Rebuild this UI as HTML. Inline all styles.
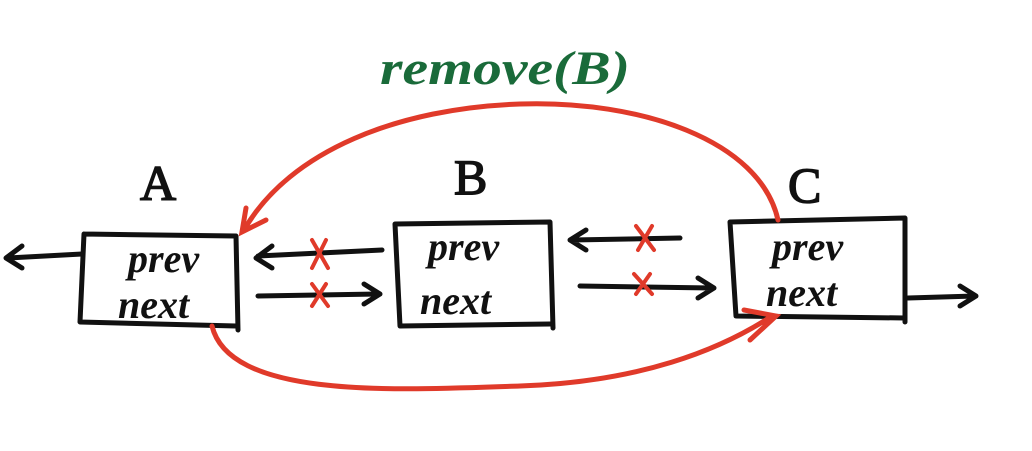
<!DOCTYPE html>
<html><head><meta charset="utf-8"><style>
html,body{margin:0;padding:0;background:#fff;}
svg{display:block;}
text{font-family:"Liberation Serif",serif;}
</style></head><body>
<svg width="1032" height="451" viewBox="0 0 1032 451">
<text x="380" y="84" font-size="48" font-style="italic" font-weight="bold" fill="#1a6b3a" textLength="250" lengthAdjust="spacingAndGlyphs">remove(B)</text>
<g fill="none" stroke="#111" stroke-width="5" stroke-linecap="round" stroke-linejoin="round">
<path d="M84 234 L236 236 L238 330 M84 234 L80 322 L236 326"/>
<path d="M395 224 L550 222 L553 328 M395 224 L400 326 L550 324"/>
<path d="M730 222 L905 218 L905 322 M730 222 L736 316 L905 318"/>
<path d="M82 254 L8 258 M22 246 L6 258 L22 268"/>
<path d="M382 250 L258 256 M272 246 L256 258 L272 268"/>
<path d="M258 296 L378 294 M364 284 L380 294 L364 304"/>
<path d="M680 238 L572 240 M586 230 L570 240 L586 250"/>
<path d="M580 286 L712 288 M698 278 L714 288 L698 298"/>
<path d="M908 298 L975 296 M960 286 L976 296 L960 306"/>
</g>
<g fill="none" stroke="#e03a2a" stroke-width="5" stroke-linecap="round">
<path d="M778 220 C760 140 640 100 520 104 C400 108 290 150 244 230 M246 208 L242 232 L266 220"/>
<path d="M212 326 C230 400 400 390 520 386 C640 382 720 350 772 316 M744 310 L776 316 L750 340"/>
<path d="M312 240 L328 268 M326 240 L312 268 M312 284 L328 306 M326 284 L312 306 M636 226 L654 250 M652 226 L638 250 M634 274 L652 294 M650 274 L636 294" stroke-width="4"/>
</g>
<g font-size="50" fill="#111" stroke="#111" stroke-width="1.5">
<text x="140" y="200">A</text>
<text x="454" y="194">B</text>
<text x="788" y="202">C</text>
</g>
<g font-size="40" font-style="italic" font-weight="bold" fill="#111">
<text x="128" y="272">prev</text>
<text x="118" y="318">next</text>
<text x="428" y="260">prev</text>
<text x="420" y="314">next</text>
<text x="772" y="260">prev</text>
<text x="766" y="306">next</text>
</g>
</svg>
</body></html>
